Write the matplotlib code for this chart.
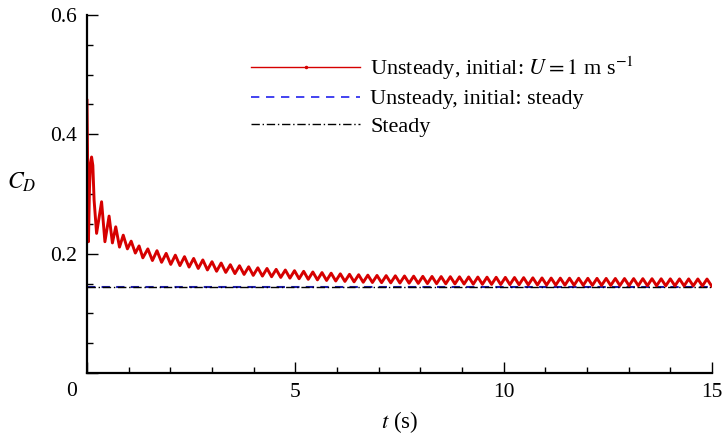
import matplotlib
matplotlib.use('Agg')
import matplotlib.pyplot as plt
from matplotlib.lines import Line2D
from matplotlib.ticker import MultipleLocator

plt.rcParams['font.family'] = ['Liberation Serif', 'DejaVu Serif']
plt.rcParams['mathtext.fontset'] = 'stix'

# --- start-up transient ---
t_start = [0.0, 0.035, 0.06, 0.085, 0.11, 0.14, 0.17, 0.23, 0.35, 0.43, 0.53, 0.61,
           0.69, 0.78, 0.87, 0.97, 1.06, 1.16, 1.25, 1.34]
cd_start = [0.457, 0.22, 0.31, 0.352, 0.362, 0.348, 0.29, 0.234, 0.287, 0.22, 0.263, 0.218,
            0.245, 0.211, 0.231, 0.208, 0.221, 0.201, 0.213, 0.193]

# --- oscillation crests ---
t_peak = [1.46, 1.68, 1.90, 2.12, 2.34, 2.56, 2.78, 3.00, 3.22, 3.44, 3.66, 3.88, 4.10,
          4.32, 4.54, 4.76, 4.98, 5.20, 5.42, 5.64, 5.86, 6.08, 6.30, 6.52, 6.74, 6.96,
          7.18, 7.40, 7.62, 7.84, 8.06, 8.28, 8.50, 8.72, 8.94, 9.16, 9.38, 9.60, 9.82,
          10.04, 10.26, 10.48, 10.70, 10.92, 11.14, 11.36, 11.58, 11.80, 12.02, 12.24,
          12.46, 12.68, 12.90, 13.12, 13.34, 13.56, 13.78, 14.00, 14.22, 14.44, 14.66, 14.88]
cd_peak = [0.208, 0.205, 0.2005, 0.1975, 0.195, 0.192, 0.1895, 0.1865, 0.1843, 0.1815,
           0.1798, 0.178, 0.1763, 0.1752, 0.1737, 0.1726, 0.1715, 0.1704, 0.1693, 0.1683,
           0.1673, 0.1662, 0.1654, 0.1647, 0.164, 0.1635, 0.1632, 0.1629, 0.1626, 0.1623,
           0.162, 0.1618, 0.1616, 0.1614, 0.1612, 0.161, 0.1608, 0.1606, 0.1604, 0.1602,
           0.16, 0.1598, 0.1595, 0.1593, 0.1591, 0.159, 0.1589, 0.1588, 0.1587, 0.1586,
           0.1585, 0.1584, 0.1583, 0.1582, 0.1581, 0.158, 0.1579, 0.1578, 0.1577, 0.1577,
           0.1576, 0.1575]

# --- oscillation troughs ---
t_trough = [1.57, 1.79, 2.01, 2.23, 2.45, 2.67, 2.89, 3.11, 3.33, 3.55, 3.77, 3.99, 4.21,
            4.43, 4.65, 4.87, 5.09, 5.31, 5.53, 5.75, 5.97, 6.19, 6.41, 6.63, 6.85, 7.07,
            7.29, 7.51, 7.73, 7.95, 8.17, 8.39, 8.61, 8.83, 9.05, 9.27, 9.49, 9.71, 9.93,
            10.15, 10.37, 10.59, 10.81, 11.03, 11.25, 11.47, 11.69, 11.91, 12.13, 12.35,
            12.57, 12.79, 13.01, 13.23, 13.45, 13.67, 13.89, 14.11, 14.33, 14.55, 14.77, 14.99]
cd_trough = [0.1885, 0.1855, 0.182, 0.18, 0.1775, 0.1752, 0.1727, 0.1705, 0.1686, 0.1666,
             0.1652, 0.1636, 0.1624, 0.1613, 0.1602, 0.159, 0.158, 0.157, 0.1561, 0.1551,
             0.1542, 0.1535, 0.1528, 0.1521, 0.1517, 0.1514, 0.1511, 0.1508, 0.1505, 0.1502,
             0.1499, 0.1497, 0.1495, 0.1493, 0.1491, 0.1489, 0.1487, 0.1485, 0.1483, 0.1481,
             0.1479, 0.1477, 0.1475, 0.1474, 0.1473, 0.1472, 0.1471, 0.147, 0.1469, 0.1468,
             0.1467, 0.1466, 0.1465, 0.1464, 0.1463, 0.1462, 0.1461, 0.1461, 0.146, 0.146,
             0.1459, 0.1459]

# the two other runs are flat
t_flat = [0.0, 15.0]
cd_unsteady_steady = [0.1438, 0.1438]
cd_steady = [0.1440, 0.1440]

# put the red series together in time order
pts = sorted(zip(t_start + t_peak + t_trough, cd_start + cd_peak + cd_trough))
t_red = [p[0] for p in pts]
cd_red = [p[1] for p in pts]

fig = plt.figure(figsize=(7.26, 4.38), dpi=100)
ax = fig.add_axes([87 / 726, 1 - 373 / 438, 625 / 726, 358 / 438])

ax.plot(t_flat, cd_unsteady_steady, color='#1c1caa', lw=1.5, dashes=(4, 3))
ax.plot(t_flat, cd_steady, color='black', lw=1.0, dashes=(6, 2, 1, 2))
ax.plot(t_red, cd_red, color='#d60000', lw=2.1, solid_joinstyle='round')

ax.set_xlim(0, 15)
ax.set_ylim(0, 0.6)
ax.set_xticks([0, 5, 10, 15])
ax.set_xticklabels(['', '5', '10', '15'])
ax.set_yticks([0, 0.2, 0.4, 0.6])
ax.set_yticklabels(['', '0.2', '0.4', '0.6'])
ax.xaxis.set_minor_locator(MultipleLocator(1))
ax.yaxis.set_minor_locator(MultipleLocator(0.05))
ax.tick_params(which='both', direction='in', labelsize=15.5, width=1.0)
ax.tick_params(which='major', length=8, pad=7)
ax.tick_params(which='minor', length=4)
for s in ['top', 'right']:
    ax.spines[s].set_visible(False)
for s in ['left', 'bottom']:
    ax.spines[s].set_linewidth(1.6)

# corner "0" sits below-left of the origin
ax.annotate('0', xy=(0, 0), xycoords='axes fraction', xytext=(-7.5, -13.5),
            textcoords='offset points', ha='right', va='center', fontsize=15.5)

ax.set_xlabel('$t$ (s)', fontsize=16.5, labelpad=5)
ax.set_ylabel('$C_D$', fontsize=17, rotation=0)
ax.yaxis.set_label_coords(-0.105, 0.5)

handles = [
    Line2D([], [], color='#d60000', lw=1.0, marker='.', markersize=3),
    Line2D([], [], color='#2222ee', lw=1.2, dashes=(5, 4)),
    Line2D([], [], color='black', lw=1.0, dashes=(6, 2, 1, 2)),
]
labels = ['Unsteady, initial: $U = 1$ m s$^{-1}$',
          'Unsteady, initial: steady',
          'Steady']
ax.legend(handles, labels, loc='upper left', bbox_to_anchor=(0.245, 0.92),
          frameon=False, fontsize=16, handlelength=4.9, handletextpad=0.45,
          labelspacing=0.3, borderpad=0, numpoints=1)

fig.savefig('out.png', dpi=100)
